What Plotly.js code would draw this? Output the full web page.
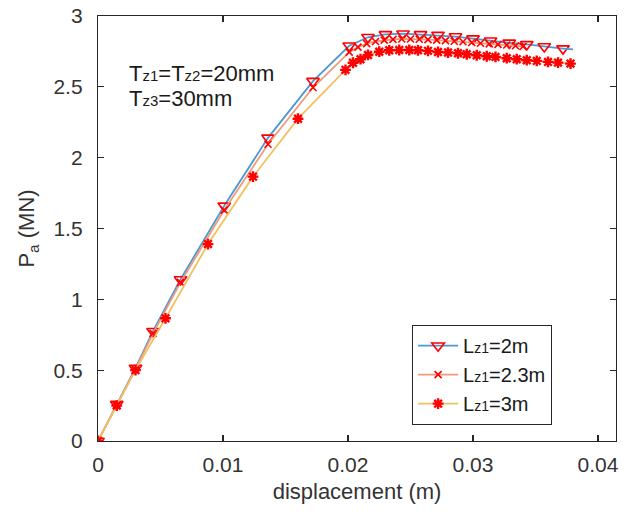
<!DOCTYPE html>
<html>
<head>
<meta charset="utf-8">
<script src="https://cdn.plot.ly/plotly-3.0.1.min.js"></script>
<style>html,body{margin:0;padding:0;background:#fff;}#chart{width:633px;height:519px;}</style>
</head>
<body>
<div id="chart"></div>
<script>
// Lz1 = 2 m (blue line, open triangle markers)
var dispA = [0, 0.0015, 0.0030, 0.0044, 0.0066, 0.0101, 0.0136, 0.0172, 0.0201, 0.0216, 0.0230, 0.0244, 0.0258, 0.0272, 0.0286, 0.0300, 0.0314, 0.0329, 0.0343, 0.0357, 0.0372];
var loadA = [0, 0.26, 0.515, 0.775, 1.14, 1.66, 2.14, 2.54, 2.79, 2.85, 2.87, 2.875, 2.87, 2.865, 2.855, 2.84, 2.825, 2.81, 2.80, 2.785, 2.77];
var tailDispA = [0.0372, 0.0380];
var tailLoadA = [2.77, 2.765];

// Lz1 = 2.3 m (orange line, x markers)
var dispB = [0, 0.0015, 0.0030, 0.0044, 0.0066, 0.0101, 0.0136, 0.0172, 0.0201, 0.0208, 0.0215, 0.0222, 0.0229, 0.0236, 0.0243, 0.0250, 0.0257, 0.0264, 0.0271, 0.0278, 0.0285, 0.0292, 0.0299, 0.0306, 0.0313, 0.0320, 0.0327, 0.0334, 0.0340];
var loadB = [0, 0.255, 0.505, 0.76, 1.12, 1.63, 2.095, 2.495, 2.745, 2.78, 2.805, 2.82, 2.83, 2.835, 2.838, 2.838, 2.836, 2.833, 2.83, 2.826, 2.822, 2.818, 2.813, 2.808, 2.803, 2.80, 2.795, 2.79, 2.785];

// Lz1 = 3 m (yellow line, star markers)
var dispC = [0, 0.0015, 0.0030, 0.0054, 0.0088, 0.0124, 0.0160, 0.0198, 0.0204, 0.0210, 0.0216, 0.0225, 0.0233, 0.0241, 0.0249, 0.0256, 0.0264, 0.0272, 0.0280, 0.0288, 0.0295, 0.0303, 0.0311, 0.0318, 0.0327, 0.0335, 0.0343, 0.0351, 0.0360, 0.0368, 0.0378];
var loadC = [0, 0.25, 0.50, 0.866, 1.39, 1.866, 2.275, 2.62, 2.67, 2.695, 2.725, 2.748, 2.758, 2.76, 2.76, 2.758, 2.754, 2.746, 2.742, 2.737, 2.73, 2.723, 2.716, 2.711, 2.702, 2.695, 2.688, 2.683, 2.676, 2.671, 2.664];

var seriesNames = ['L<span style="font-size:14px">z1</span>=2m', 'L<span style="font-size:14px">z1</span>=2.3m', 'L<span style="font-size:14px">z1</span>=3m'];
var xTicks = [0, 0.01, 0.02, 0.03, 0.04];
var xTickText = ['0', '0.01', '0.02', '0.03', '0.04'];
var yTicks = [0, 0.5, 1, 1.5, 2, 2.5, 3];
var yTickText = ['0', '0.5', '1', '1.5', '2', '2.5', '3'];

var blue = '#4a98d4', orange = '#f09a78', yellow = '#f3c060', red = '#ff0000';
var axisCol = '#262626';

var traces = [
  {x: dispA, y: loadA, name: seriesNames[0], mode: 'lines+markers',
   line: {color: blue, width: 1.8},
   marker: {symbol: 'triangle-down-open', size: 11, color: red, line: {color: red, width: 1.6}}},
  {x: tailDispA, y: tailLoadA, mode: 'lines', showlegend: false, hoverinfo: 'skip',
   line: {color: blue, width: 1.8}},
  {x: dispB, y: loadB, name: seriesNames[1], mode: 'lines+markers',
   line: {color: orange, width: 1.8},
   marker: {symbol: 'x-thin-open', size: 7, color: red, line: {color: red, width: 1.6}}},
  {x: dispC, y: loadC, name: seriesNames[2], mode: 'lines+markers',
   line: {color: yellow, width: 1.8},
   marker: {symbol: 'asterisk-open', size: 9, color: red, line: {color: red, width: 2.4}}}
];

var layout = {
  width: 633, height: 519,
  margin: {l: 98, r: 17, t: 16, b: 78},
  paper_bgcolor: '#ffffff', plot_bgcolor: '#ffffff',
  font: {family: 'Liberation Sans, Arial, sans-serif', color: axisCol},
  showlegend: true,
  xaxis: {
    range: [0, 0.04144], tickvals: xTicks, ticktext: xTickText,
    showgrid: false, zeroline: false, showline: true, linecolor: axisCol, linewidth: 1.2,
    mirror: 'ticks', ticks: 'inside', ticklen: 6, tickcolor: axisCol, tickwidth: 1.2,
    tickfont: {size: 21, color: '#333333'}, ticklabelstandoff: 5,
    title: {text: 'displacement (m)', font: {size: 22, color: '#333333'}, standoff: 8}
  },
  yaxis: {
    range: [0, 3], tickvals: yTicks, ticktext: yTickText,
    showgrid: false, zeroline: false, showline: true, linecolor: axisCol, linewidth: 1.2,
    mirror: 'ticks', ticks: 'inside', ticklen: 6, tickcolor: axisCol, tickwidth: 1.2,
    tickfont: {size: 21, color: '#333333'}, ticklabelstandoff: 10,
    title: {text: 'P<sub>a</sub> (MN)', font: {size: 22, color: '#333333'}, standoff: 12}
  },
  legend: {
    x: 0.606, y: 0.273, xanchor: 'left', yanchor: 'top',
    bgcolor: '#ffffff', bordercolor: axisCol, borderwidth: 1.2,
    font: {size: 20, color: '#1a1a1a'}, tracegroupgap: 0, itemwidth: 40
  },
  annotations: [
    {xref: 'paper', yref: 'paper', x: (127 - 98) / 518, y: (441 - 73) / 425, xanchor: 'left', yanchor: 'middle',
     showarrow: false, text: 'T<span style="font-size:15px">z1</span>=T<span style="font-size:15px">z2</span>=20mm',
     font: {size: 22, color: '#1a1a1a'}},
    {xref: 'paper', yref: 'paper', x: (127 - 98) / 518, y: (441 - 98) / 425, xanchor: 'left', yanchor: 'middle',
     showarrow: false, text: 'T<span style="font-size:15px">z3</span>=30mm',
     font: {size: 22, color: '#1a1a1a'}}
  ]
};

Plotly.newPlot('chart', traces, layout, {staticPlot: true, displayModeBar: false});
</script>
</body>
</html>
